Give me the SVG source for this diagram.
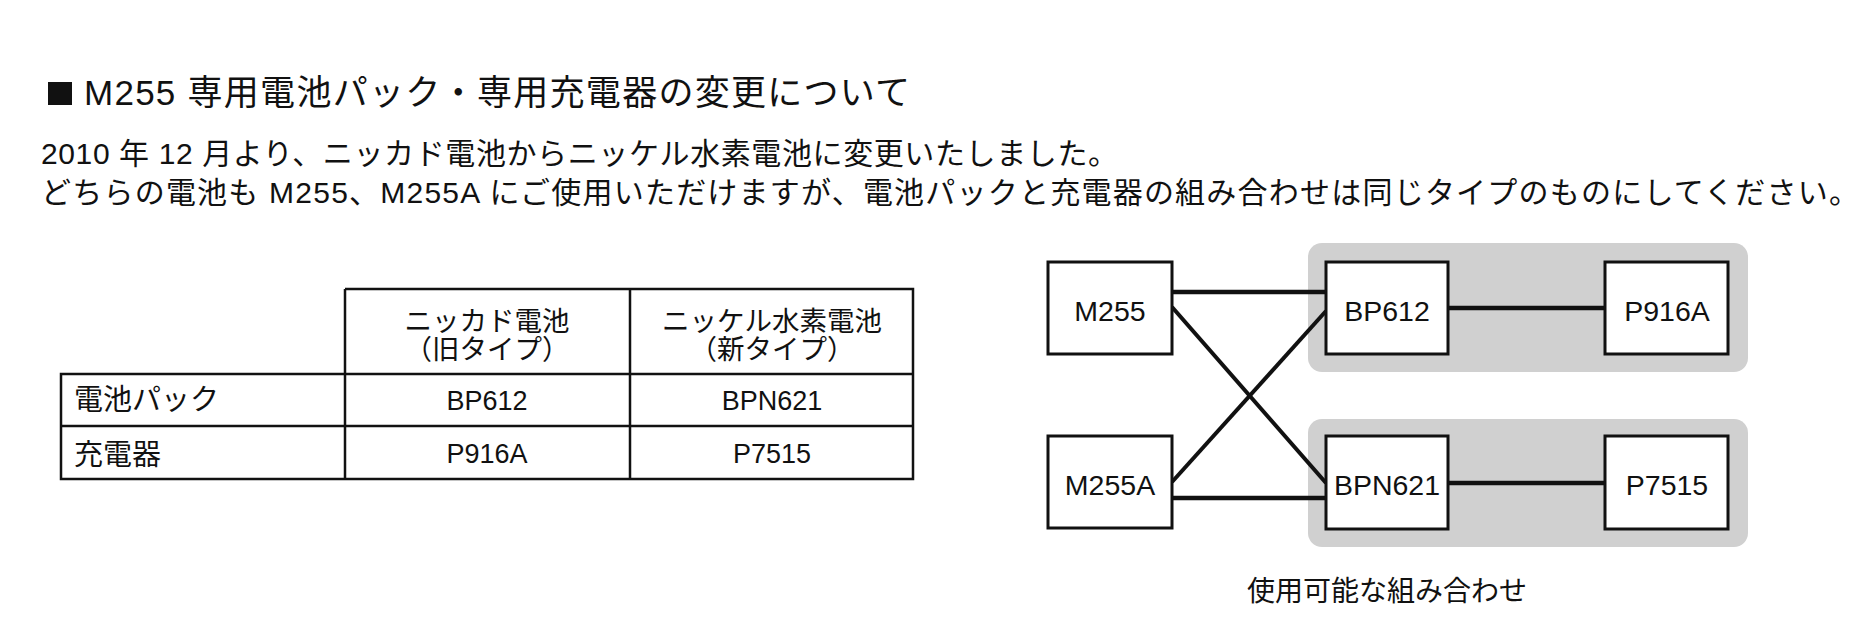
<svg xmlns="http://www.w3.org/2000/svg" width="1872" height="629" viewBox="0 0 1872 629">
<defs>
<style>
text{font-family:"Liberation Sans","Noto Sans CJK JP",sans-serif;fill:#111}
.title{font-size:35px}
.body{font-size:30px}
.th{font-size:27.5px;text-anchor:middle}
.td{font-size:27px;text-anchor:middle}
.rl{font-size:29px}
.cap{font-size:28px;text-anchor:middle}
.node rect{fill:#fff;stroke:#111;stroke-width:3}
.node text{font-size:28.5px;text-anchor:middle}
.grp{fill:#d0d0d0}
.cell{fill:none;stroke:#111;stroke-width:2.5}
.conn line{stroke:#111;stroke-width:4;stroke-linecap:butt}
.conn .h{stroke-width:4.5}
</style>
</defs>
<rect width="1872" height="629" fill="#fff"/>

<g id="heading">
<rect x="48" y="82" width="24" height="23" fill="#111"/>
<text class="title" x="84" y="105" textLength="826" lengthAdjust="spacing">M255 専用電池パック・専用充電器の変更について</text>
<text class="body" x="41" y="164" textLength="1077" lengthAdjust="spacing">2010 年 12 月より、ニッカド電池からニッケル水素電池に変更いたしました。</text>
<text class="body" x="41" y="203" textLength="1818" lengthAdjust="spacing">どちらの電池も M255、M255A にご使用いただけますが、電池パックと充電器の組み合わせは同じタイプのものにしてください。</text>
</g>

<g id="table">
<path class="cell" d="M345 289 H913 V479 H61 V374 H913 M61 426 H913 M345 289 V479 M630 289 V479"/>
<text class="th" x="487" y="331">ニッカド電池</text>
<text class="th" x="487" y="359">（旧タイプ）</text>
<text class="th" x="772" y="331">ニッケル水素電池</text>
<text class="th" x="772" y="359">（新タイプ）</text>
<text class="rl" x="74" y="410">電池パック</text>
<text class="rl" x="74" y="465">充電器</text>
<text class="td" x="487" y="410">BP612</text>
<text class="td" x="772" y="410">BPN621</text>
<text class="td" x="487" y="463">P916A</text>
<text class="td" x="772" y="463">P7515</text>
</g>

<g id="groups">
<rect class="grp" x="1308" y="243" width="440" height="129" rx="14"/>
<rect class="grp" x="1308" y="419" width="440" height="128" rx="14"/>
</g>

<g id="connectors" class="conn">
<line class="h" x1="1172" y1="292" x2="1326" y2="292"/>
<line x1="1172" y1="307" x2="1326" y2="483"/>
<line x1="1172" y1="482" x2="1326" y2="311"/>
<line class="h" x1="1172" y1="498" x2="1326" y2="498"/>
<line class="h" x1="1448" y1="308" x2="1605" y2="308"/>
<line class="h" x1="1448" y1="483" x2="1605" y2="483"/>
</g>

<g id="node-m255" class="node"><rect x="1048" y="262" width="124" height="92"/><text x="1110" y="321">M255</text></g>
<g id="node-m255a" class="node"><rect x="1048" y="436" width="124" height="92"/><text x="1110" y="495">M255A</text></g>
<g id="node-bp612" class="node"><rect x="1326" y="262" width="122" height="92"/><text x="1387" y="321">BP612</text></g>
<g id="node-p916a" class="node"><rect x="1605" y="262" width="123" height="92"/><text x="1667" y="321">P916A</text></g>
<g id="node-bpn621" class="node"><rect x="1326" y="436" width="122" height="93"/><text x="1387" y="495">BPN621</text></g>
<g id="node-p7515" class="node"><rect x="1605" y="436" width="123" height="93"/><text x="1667" y="495">P7515</text></g>

<text class="cap" x="1387" y="601">使用可能な組み合わせ</text>
</svg>
